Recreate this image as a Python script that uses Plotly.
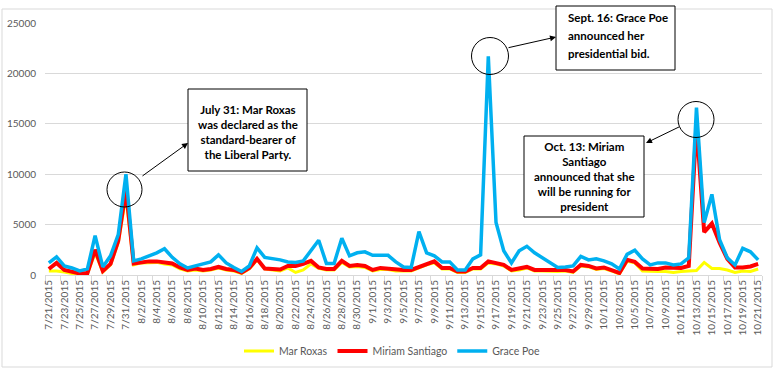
import pandas as pd
import plotly.graph_objects as go

dates = [f"{d.month}/{d.day}/{d.year}" for d in pd.date_range("2015-07-21", "2015-10-21", freq="D")]

mar_roxas = [400, 400, 300, 150, 100, 100, 2200, 300, 1000, 3200,
             7800, 1000, 1200, 1250, 1250, 1100, 1000, 600, 400, 500,
             400, 500, 700, 500, 400, 150, 600, 1500, 600, 500,
             400, 700, 250, 500, 1100, 650, 500, 500, 1250, 800,
             850, 750, 400, 550, 550, 400, 400, 400, 700, 1000,
             1200, 600, 600, 250, 250, 600, 600, 1200, 1100, 900,
             400, 500, 700, 400, 400, 350, 350, 400, 250, 900,
             800, 550, 650, 400, 100, 1350, 1200, 400, 350, 350,
             350, 250, 350, 400, 450, 1250, 650, 650, 500, 250,
             400, 350, 600]

miriam_santiago = [600, 1200, 500, 300, 150, 200, 2500, 400, 1100, 3400,
                   8500, 1150, 1300, 1350, 1350, 1200, 1150, 750, 500, 650,
                   500, 600, 800, 600, 500, 250, 700, 1600, 650, 600,
                   550, 900, 900, 1100, 1400, 750, 600, 600, 1400, 900,
                   1000, 900, 500, 700, 650, 500, 500, 500, 800, 1100,
                   1350, 700, 700, 350, 350, 700, 700, 1350, 1200, 1000,
                   500, 600, 800, 500, 500, 450, 450, 500, 350, 1000,
                   900, 650, 750, 500, 200, 1500, 1300, 650, 600, 600,
                   750, 700, 700, 900, 15000, 4250, 5100, 3200, 1600, 750,
                   750, 850, 1100]

grace_poe = [1200, 1800, 900, 700, 400, 600, 3900, 800, 1900, 4000,
             10000, 1400, 1600, 1900, 2200, 2600, 1750, 1100, 700, 900,
             1100, 1300, 2000, 1200, 750, 350, 900, 2700, 1750, 1650,
             1500, 1300, 1250, 1400, 2400, 3450, 1150, 1150, 3650, 1900,
             2200, 2300, 1950, 1950, 1950, 1300, 800, 750, 4300, 2200,
             1900, 1300, 1300, 500, 500, 1600, 2000, 21700, 5200, 2400,
             1200, 2400, 2850, 2200, 1750, 1200, 750, 800, 900, 1850,
             1500, 1600, 1400, 1100, 600, 2050, 2450, 1600, 1000, 1200,
             1200, 1000, 1100, 1700, 16600, 5200, 8000, 3500, 1700, 1000,
             2650, 2300, 1500]

y_ticks = [0, 5000, 10000, 15000, 20000, 25000]

# pixel geometry helpers (figure is 776 x 371)
FW, FH = 776, 371
ML, MR, MT, MB = 45, 14, 23, 96
PW, PH = FW - ML - MR, FH - MT - MB


def px(x):
    return (x - ML) / PW


def py(y):
    return (FH - MB - y) / PH


fig = go.Figure()
fig.add_trace(go.Scatter(x=dates, y=mar_roxas, mode="lines", name="Mar Roxas",
                         line=dict(color="#FFFF00", width=3)))
fig.add_trace(go.Scatter(x=dates, y=miriam_santiago, mode="lines", name="Miriam Santiago",
                         line=dict(color="#FF0000", width=4)))
fig.add_trace(go.Scatter(x=dates, y=grace_poe, mode="lines", name="Grace Poe",
                         line=dict(color="#00B0F0", width=3.5)))

shapes = []
# outer chart border
shapes.append(dict(type="rect", xref="paper", yref="paper",
                   x0=px(2), x1=px(772), y0=py(367), y1=py(9),
                   line=dict(color="#D9D9D9", width=1), layer="below"))
# circles
for cx, cy, r in [(124.5, 189.5, 17.5), (490, 56, 18.5), (696, 119.5, 18)]:
    shapes.append(dict(type="circle", xref="paper", yref="paper",
                       x0=px(cx - r), x1=px(cx + r), y0=py(cy + r), y1=py(cy - r),
                       line=dict(color="black", width=1)))
# text boxes
for x0, y0, x1, y1 in [(188, 89, 307, 171), (556, 6, 675, 70), (524, 136, 644, 217)]:
    shapes.append(dict(type="rect", xref="paper", yref="paper",
                       x0=px(x0), x1=px(x1), y0=py(y1), y1=py(y0),
                       line=dict(color="black", width=1), fillcolor="white"))

afont = dict(family="Lato", size=11.5, color="black")
annotations = [
    dict(xref="paper", yref="paper", x=px(247.5), y=py(132), xanchor="center", yanchor="middle",
         showarrow=False, align="center", font=afont,
         text="<b>July 31: Mar Roxas<br>was declared as the<br>standard-bearer of<br>the Liberal Party.</b>"),
    dict(xref="paper", yref="paper", x=px(566), y=py(17), xanchor="left", yanchor="middle",
         showarrow=False, font=afont, text="<b>Sept. 16: Grace Poe</b>"),
    dict(xref="paper", yref="paper", x=px(566), y=py(35), xanchor="left", yanchor="middle",
         showarrow=False, font=afont, text="<b>announced her</b>"),
    dict(xref="paper", yref="paper", x=px(566), y=py(53), xanchor="left", yanchor="middle",
         showarrow=False, font=afont, text="<b>presidential bid.</b>"),
    dict(xref="paper", yref="paper", x=px(584), y=py(176.5), xanchor="center", yanchor="middle",
         showarrow=False, align="center", font=afont,
         text="<b>Oct. 13: Miriam<br>Santiago<br>announced that she<br>will be running for<br>president</b>"),
]
# arrows (head at box, tail at circle)
for hx, hy, tx, ty in [(188, 143, 141, 177), (556, 37, 507, 48), (646, 143, 681, 126)]:
    annotations.append(dict(xref="paper", yref="paper", x=px(hx), y=py(hy), text="",
                            showarrow=True, arrowhead=2, arrowsize=1.2, arrowwidth=1,
                            arrowcolor="black", ax=tx - hx, ay=ty - hy, standoff=0))

fig.update_layout(
    width=FW, height=FH,
    margin=dict(l=ML, r=MR, t=MT, b=MB, autoexpand=False),
    paper_bgcolor="white", plot_bgcolor="white",
    font=dict(family="Lato", color="#595959"),
    xaxis=dict(type="category", range=[-0.5, len(dates) - 0.5],
               tickmode="array", tickvals=dates[::2], ticktext=dates[::2],
               tickangle=-90, tickfont=dict(size=10, color="#595959"),
               tickson="boundaries", ticks="outside", ticklen=5, tickcolor="#D9D9D9",
               showgrid=False, showline=True, linecolor="#D9D9D9", linewidth=1,
               zeroline=False, fixedrange=True, automargin=False),
    yaxis=dict(range=[0, 25000], tickmode="array", tickvals=y_ticks,
               ticktext=[str(v) for v in y_ticks],
               tickfont=dict(size=10, color="#595959"),
               showgrid=True, gridcolor="#D9D9D9", gridwidth=1,
               zeroline=False, showline=False, ticks="", ticklabelstandoff=8,
               automargin=False),
    legend=dict(orientation="h", x=px(392), xanchor="center", y=py(351), yanchor="middle",
                font=dict(size=10.5, color="#595959"), bgcolor="rgba(0,0,0,0)",
                itemwidth=30, tracegroupgap=0),
    shapes=shapes,
    annotations=annotations,
    showlegend=True,
)

fig.write_html("out.html", config={"displayModeBar": False},
               post_script="document.body.style.margin='0';document.body.style.overflow='hidden';")
